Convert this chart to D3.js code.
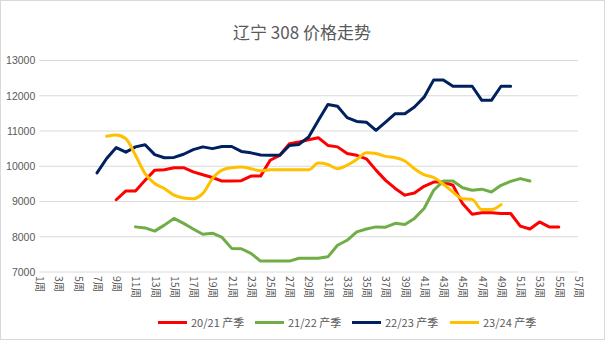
<!DOCTYPE html>
<html><head><meta charset="utf-8">
<script src="https://cdn.jsdelivr.net/npm/d3@7"></script>
<style>
html,body{margin:0;padding:0;background:#fff;}
svg{display:block;}
text{font-family:"Noto Sans CJK SC","Noto Sans",sans-serif;fill:#595959;}
</style></head><body>
<svg id="c" width="605" height="340"></svg>
<script>
const weeks = d3.range(1, 58);
const weekLabels = weeks.map(w => w + "周");
const yTicks = [7000, 8000, 9000, 10000, 11000, 12000, 13000];
const seriesNames = ["20/21 产季", "21/22 产季", "22/23 产季", "23/24 产季"];
const seriesColors = ["#FF0000", "#70AD47", "#002060", "#FFC000"];
const seriesStart = [9, 11, 7, 8];
const s2021 = [9050,9300,9300,9600,9890,9900,9960,9960,9840,9760,9680,9580,9580,9590,9720,9720,10170,10310,10640,10690,10750,10810,10590,10550,10360,10310,10210,9890,9600,9370,9180,9240,9430,9550,9550,9460,8940,8640,8680,8680,8660,8660,8300,8220,8420,8280,8280];
const s2122 = [8280,8250,8160,8330,8520,8380,8220,8070,8100,7980,7670,7660,7530,7310,7310,7310,7310,7390,7390,7390,7430,7760,7900,8140,8220,8280,8270,8380,8350,8520,8800,9320,9580,9580,9390,9320,9350,9270,9460,9570,9650,9580];
const s2223 = [9810,10220,10530,10400,10550,10610,10330,10240,10250,10340,10470,10550,10500,10560,10560,10420,10380,10320,10310,10310,10590,10620,10830,11300,11750,11700,11380,11270,11250,11020,11250,11490,11490,11680,11960,12450,12450,12270,12270,12270,11870,11870,12270,12270];
const s2324 = [10850,10890,10780,10310,9790,9510,9370,9180,9100,9080,9230,9650,9890,9960,9980,9930,9870,9900,9900,9900,9900,9900,10090,10050,9930,10030,10190,10380,10360,10280,10240,10150,9930,9760,9680,9490,9270,9080,9060,8770,8770,8910];
const seriesValues = [s2021, s2122, s2223, s2324];

const svg = d3.select("#c");
svg.append("rect").attr("x",0.5).attr("y",0.5).attr("width",604).attr("height",339)
  .attr("fill","#fff").attr("stroke","#d9d9d9");

svg.append("text").attr("x",302).attr("y",39).attr("text-anchor","middle")
  .style("font-size","17px").text("辽宁 308 价格走势");

const x = d3.scalePoint().domain(weeks).range([39.3, 578]);
const y = d3.scaleLinear().domain([7000, 13000]).range([272, 60.5]);

// gridlines
svg.append("g").selectAll("line").data(yTicks).join("line")
  .attr("x1",39.3).attr("x2",578).attr("y1",d=>y(d)).attr("y2",d=>y(d))
  .attr("stroke","#d9d9d9").attr("stroke-width",1);

// y axis labels
const yAxis = d3.axisLeft(y).tickValues(yTicks).tickSize(0).tickPadding(4).tickFormat(d=>d);
const yg = svg.append("g").attr("transform","translate(39.3,0)").call(yAxis);
yg.select(".domain").remove();
yg.selectAll("text").style("font-size","10.5px").style("font-family","'Liberation Sans',sans-serif").attr("fill","#595959");

// x axis labels (rotated)
const xAxis = d3.axisBottom(x).tickValues(weeks.filter(w => w % 2 === 1)).tickSize(0).tickFormat(w => w + "周");
const xg = svg.append("g").attr("transform","translate(0,272)").call(xAxis);
xg.select(".domain").remove();
xg.selectAll("text").attr("transform","rotate(90)").attr("x",4).attr("y",0).attr("dy","0.35em")
  .style("text-anchor","start").style("font-size","10.5px").attr("fill","#595959");

// lines
seriesValues.forEach((vals, i) => {
  const pts = vals.map((v, k) => [seriesStart[i] + k, v]);
  const line = d3.line().x(d => x(d[0])).y(d => y(d[1]))
    .curve(i === 3 ? d3.curveMonotoneX : d3.curveLinear);
  svg.append("path").datum(pts).attr("d", line).attr("fill","none")
    .attr("stroke", seriesColors[i]).attr("stroke-width", 3)
    .attr("stroke-linejoin","round").attr("stroke-linecap","round");
});

// legend
const legX = [158, 255, 352, 450];
const lg = svg.append("g");
seriesNames.forEach((n, i) => {
  lg.append("line").attr("x1",legX[i]).attr("x2",legX[i]+29).attr("y1",322.5).attr("y2",322.5)
    .attr("stroke",seriesColors[i]).attr("stroke-width",3);
  lg.append("text").attr("x",legX[i]+33).attr("y",326.5).style("font-size","11px").text(n);
});
</script>
</body></html>
